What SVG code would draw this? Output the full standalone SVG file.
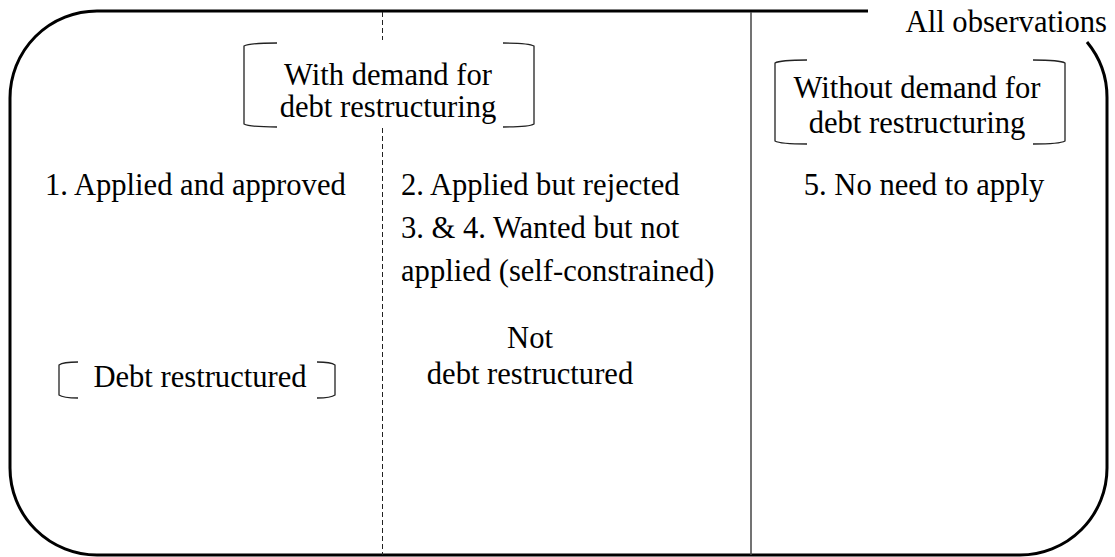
<svg xmlns="http://www.w3.org/2000/svg" width="1115" height="557" viewBox="0 0 1115 557">
<style>
.c{text-anchor:middle}
.br{fill:none;stroke:#222;stroke-width:1.3}
</style>
<rect width="1115" height="557" fill="#fff"/>
<g font-family="'Liberation Serif', 'Times New Roman', serif" font-size="30.6" fill="#000">
<g id="outer">
<path d="M1087 42 A87 87 0 0 1 1107 98 V468 A87 87 0 0 1 1020 555 H97 A87 87 0 0 1 10 468 V98 A87 87 0 0 1 97 11 H868" fill="none" stroke="#000" stroke-width="3"/>
<text x="1107" y="32" text-anchor="end">All observations</text>
</g>
<g id="connectors">
<line x1="382.5" y1="12" x2="382.5" y2="40" stroke="#222" stroke-width="1" stroke-dasharray="5,3"/>
<line x1="382.5" y1="128" x2="382.5" y2="555" stroke="#222" stroke-width="1" stroke-dasharray="5,3"/>
<line x1="751" y1="12" x2="751" y2="555" stroke="#444" stroke-width="1.5"/>
</g>
<g id="with-demand">
<path class="br" d="M277 43 Q249 43 244 46 V124 Q249 127 277 127"/>
<path class="br" d="M503 43 Q529 43 534 46 V124 Q529 127 503 127"/>
<text class="c" x="388" y="85">With demand for</text>
<text class="c" x="388" y="117">debt restructuring</text>
</g>
<g id="without-demand">
<path class="br" d="M807 60 Q780 60 775 63 V141 Q780 144 807 144"/>
<path class="br" d="M1033 60 Q1060 60 1065 63 V141 Q1060 144 1033 144"/>
<text class="c" x="917" y="98">Without demand for</text>
<text class="c" x="917" y="133">debt restructuring</text>
</g>
<g id="applied-approved">
<text x="45" y="195">1. Applied and approved</text>
</g>
<g id="rejected">
<text x="401" y="195">2. Applied but rejected</text>
<text x="401" y="238">3. &amp; 4. Wanted but not</text>
<text x="401" y="281">applied (self-constrained)</text>
</g>
<g id="no-need">
<text class="c" x="924" y="195">5. No need to apply</text>
</g>
<g id="debt-restructured">
<path class="br" d="M78 362 Q63 362 59 365 V395 Q63 398 78 398"/>
<path class="br" d="M317 362 Q331 362 335 365 V395 Q331 398 317 398"/>
<text class="c" x="200" y="387">Debt restructured</text>
</g>
<g id="not-restructured">
<text class="c" x="530" y="348">Not</text>
<text class="c" x="530" y="384">debt restructured</text>
</g>
</g>
</svg>
